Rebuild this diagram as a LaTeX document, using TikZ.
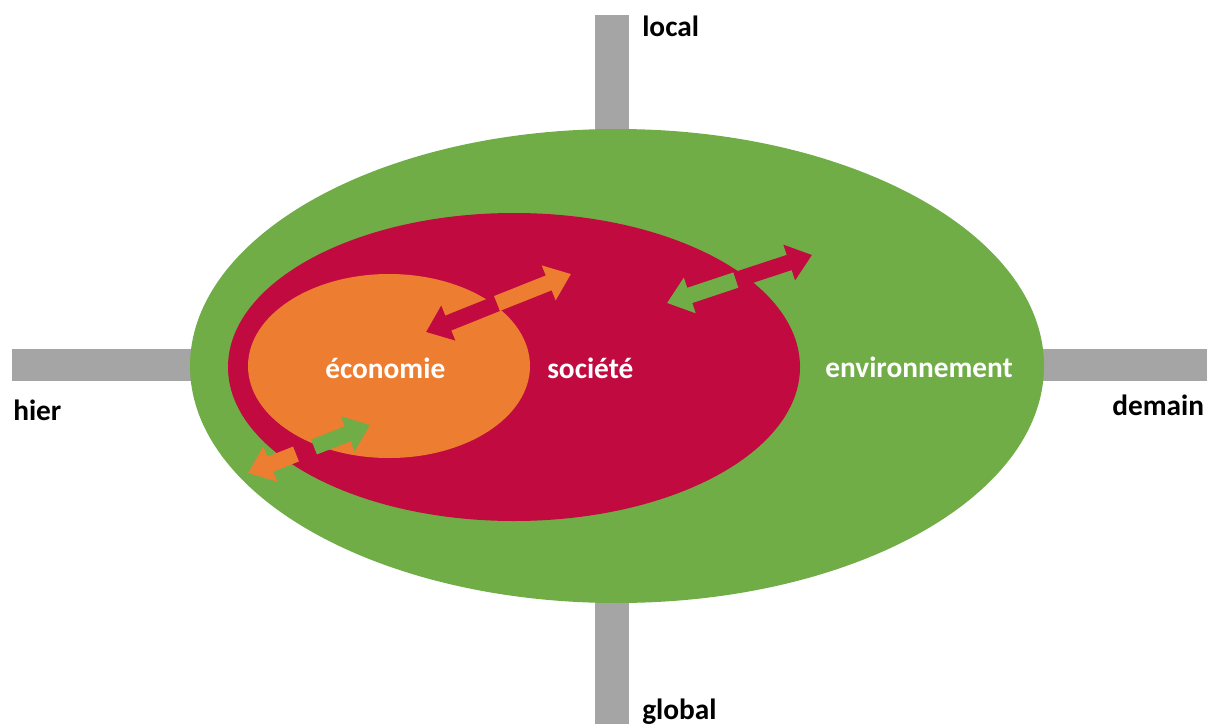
\documentclass[tikz,border=0pt]{standalone}
\usepackage{fontspec}
\setmainfont{Carlito}
\usetikzlibrary{arrows.meta}
\definecolor{envgreen}{RGB}{112,173,71}
\definecolor{socred}{RGB}{192,10,64}
\definecolor{ecoorange}{RGB}{237,125,49}
\definecolor{axisgray}{RGB}{165,165,165}
\begin{document}
\begin{tikzpicture}[x=0.75pt,y=-0.75pt,
  lbl/.style={font=\fontsize{22}{26}\selectfont\bfseries,inner sep=0pt},
  inlbl/.style={lbl,text=white},
  halfarrow/.style={line width=12pt,-{Triangle[length=18pt,width=27pt]}}]
\useasboundingbox (0,0) rectangle (1209,724);
% axes
\fill[axisgray] (595,15) rectangle (629,724);
\fill[axisgray] (12,349) rectangle (1207,381);
% nested ellipses
\fill[envgreen] (617,366) ellipse [x radius=427,y radius=237];
\fill[socred] (514,367) ellipse [x radius=286,y radius=154];
\fill[ecoorange] (389,366) ellipse [x radius=141,y radius=92];
% labels
\node[inlbl,anchor=base west] (eco) at (325,378) {économie};
\node[inlbl,anchor=base west] (soc) at (547,378) {société};
\node[inlbl,anchor=base west] (env) at (825,377) {environnement};
\node[lbl,anchor=base west] (local) at (642,37) {local};
\node[lbl,anchor=base west] (global) at (642,719) {global};
\node[lbl,anchor=base west] (hier) at (13,420) {hier};
\node[lbl,anchor=base west] (demain) at (1112,415) {demain};
% exchanges
\coordinate (ecoin) at (426,332);
\coordinate (ecoout) at (571,274);
\coordinate (ecomid) at (497,303.5);
\draw[halfarrow,socred] (ecomid) -- (ecoin);
\draw[halfarrow,ecoorange] (ecomid) -- (ecoout);
\coordinate (socin) at (667,303);
\coordinate (socout) at (812,255);
\coordinate (socmid) at (736,280);
\draw[halfarrow,envgreen] (socmid) -- (socin);
\draw[halfarrow,socred] (socmid) -- (socout);
\coordinate (envin) at (370,425);
\coordinate (envout) at (248,473);
\coordinate (envmida) at (296,454);
\coordinate (envmidb) at (314,447);
\draw[halfarrow,ecoorange] (envmida) -- (envout);
\draw[halfarrow,envgreen] (envmidb) -- (envin);
\end{tikzpicture}
\end{document}
